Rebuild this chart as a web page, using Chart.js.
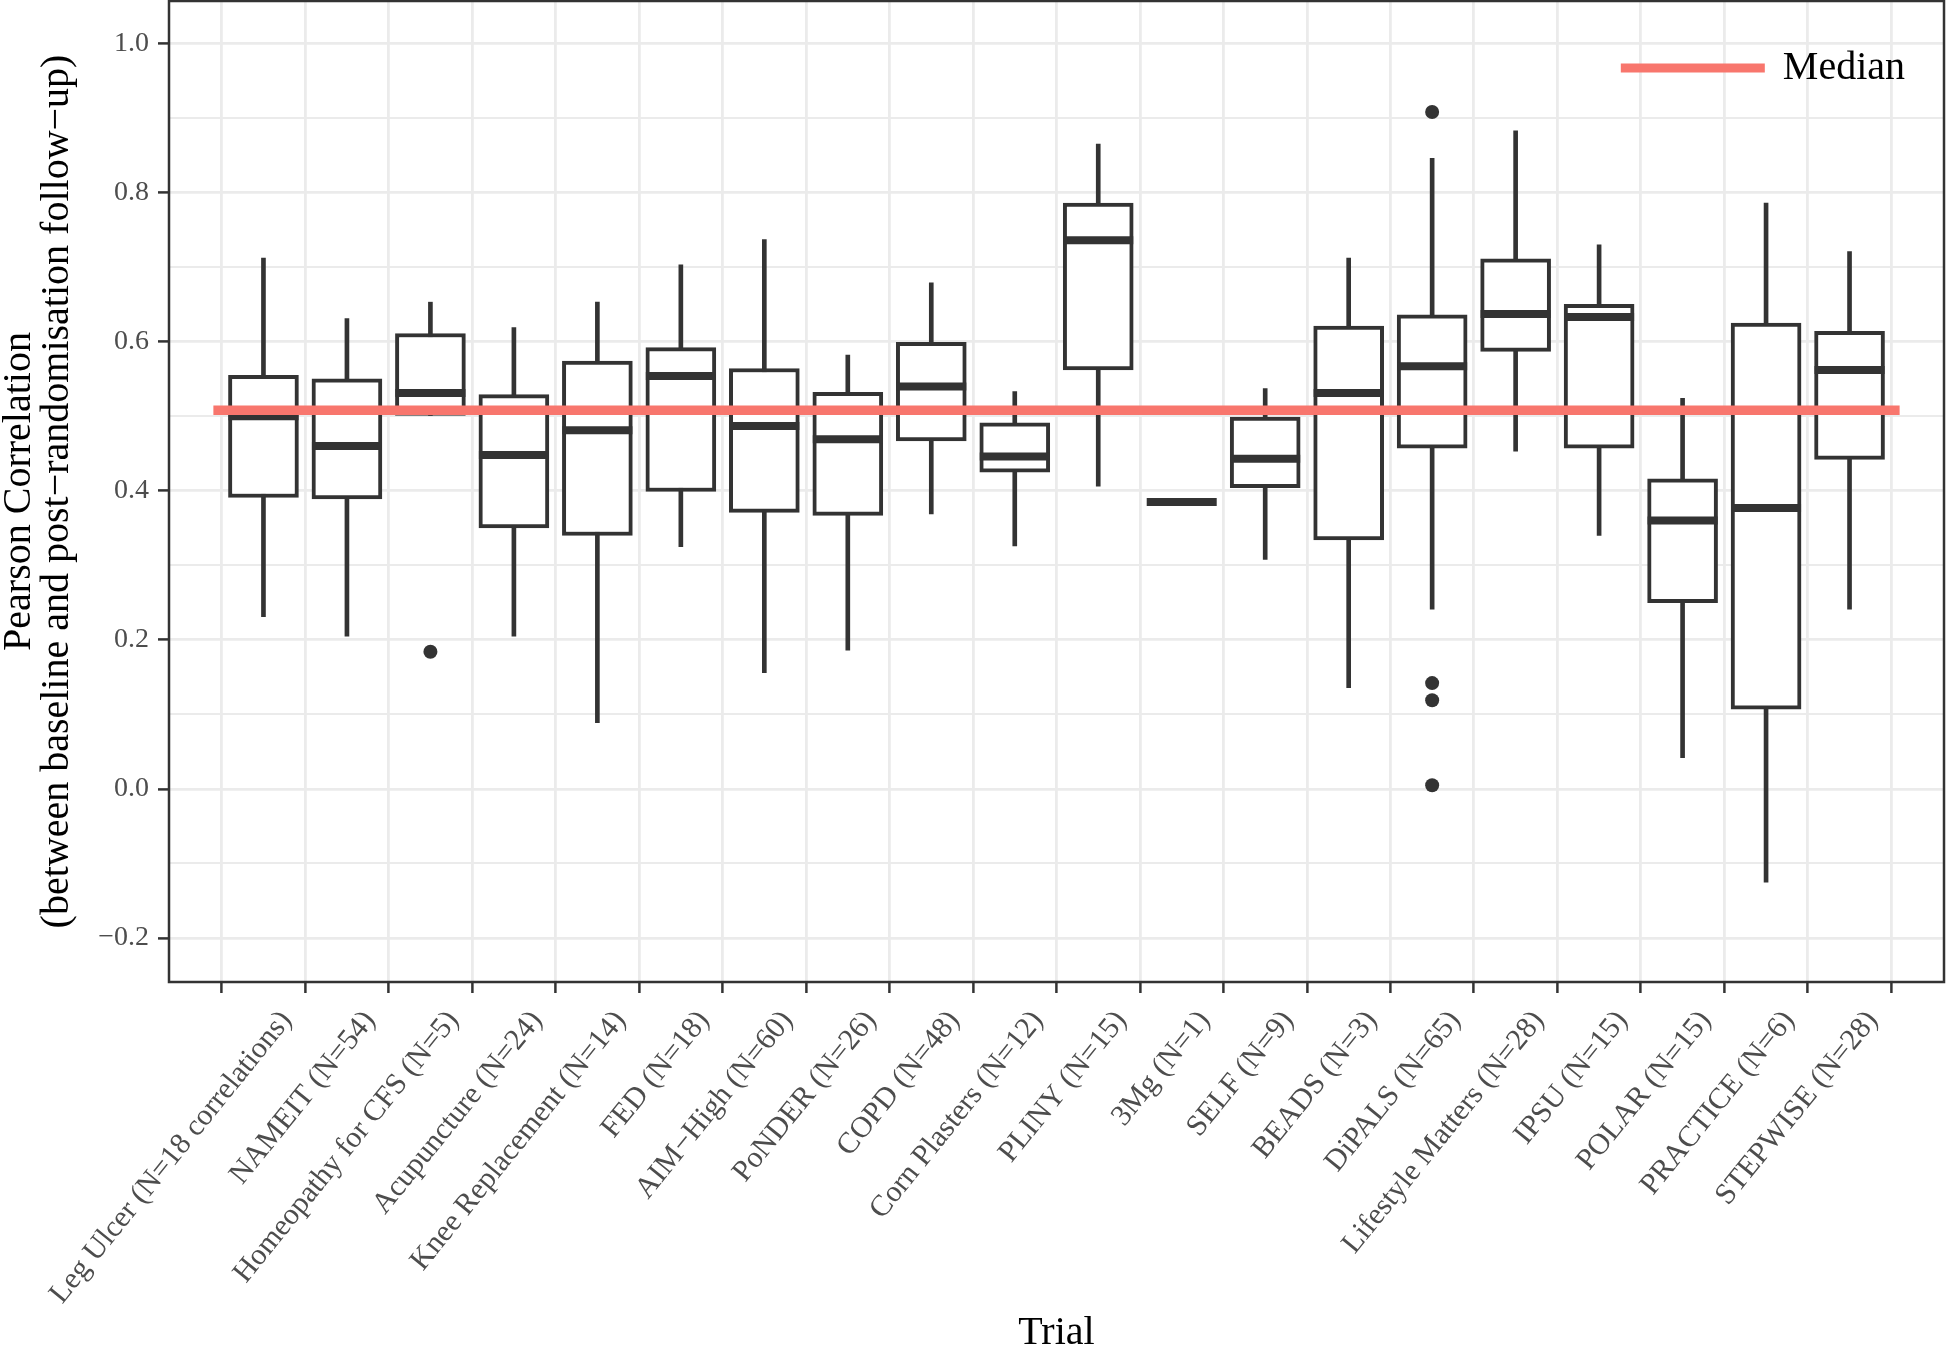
<!DOCTYPE html>
<html><head><meta charset="utf-8">
<script src="https://cdn.jsdelivr.net/npm/chart.js@4/dist/chart.umd.min.js"></script>
<style>html,body{margin:0;padding:0;background:#fff}canvas{display:block}</style>
</head><body>
<canvas id="c" width="1946" height="1349"></canvas>
<script>
const trials = ["Leg Ulcer (N=18 correlations)","NAMEIT (N=54)","Homeopathy for CFS (N=5)","Acupuncture (N=24)","Knee Replacement (N=14)","FED (N=18)","AIM\u2212High (N=60)","PoNDER (N=26)","COPD (N=48)","Corn Plasters (N=12)","PLINY (N=15)","3Mg (N=1)","SELF (N=9)","BEADS (N=3)","DiPALS (N=65)","Lifestyle Matters (N=28)","IPSU (N=15)","POLAR (N=15)","PRACTICE (N=6)","STEPWISE (N=28)"];
const whiskerLow  = [0.231,0.205,0.501,0.205,0.089,0.325,0.156,0.186,0.369,0.326,0.406,0.385,0.308,0.136,0.241,0.453,0.340,0.042,-0.125,0.241];
const q1          = [0.391,0.389,0.501,0.350,0.340,0.399,0.371,0.367,0.467,0.425,0.562,0.385,0.404,0.334,0.457,0.587,0.457,0.250,0.107,0.442];
const medians     = [0.500,0.460,0.531,0.448,0.481,0.554,0.487,0.469,0.540,0.446,0.736,0.385,0.443,0.531,0.567,0.637,0.633,0.360,0.377,0.562];
const q3          = [0.555,0.550,0.611,0.529,0.574,0.592,0.564,0.532,0.599,0.491,0.786,0.385,0.499,0.621,0.636,0.711,0.650,0.416,0.625,0.614];
const whiskerHigh = [0.712,0.631,0.653,0.619,0.653,0.703,0.737,0.582,0.679,0.533,0.865,0.385,0.537,0.712,0.846,0.883,0.730,0.524,0.786,0.721];
const outlierTrial = [2,14,14,14,14];
const outlierValue = [0.184,0.908,0.142,0.119,0.005];
const overallMedian = 0.508;
const yTickValues = [-0.2,-0.1,0.0,0.1,0.2,0.3,0.4,0.5,0.6,0.7,0.8,0.9,1.0];
const yTickLabels = ["\u22120.2","","0.0","","0.2","","0.4","","0.6","","0.8","","1.0"];

const X_MIN = -0.6, X_MAX = trials.length - 1 + 0.6;
const Y_MIN = -0.259, Y_MAX = 1.057;
const DARK = '#333333';
const RED = '#F8766D';
const FONT = "'Liberation Serif', 'Times New Roman', serif";

Chart.defaults.font.family = FONT;

const panelBorder = {
  id: 'panelBorder',
  afterDraw(chart) {
    const {ctx, chartArea: a} = chart;
    ctx.save();
    ctx.strokeStyle = DARK;
    ctx.lineWidth = 2.5;
    ctx.strokeRect(a.left, a.top, a.right - a.left, a.bottom - a.top);
    ctx.restore();
  }
};

const insideLegend = {
  id: 'insideLegend',
  afterDraw(chart) {
    const ds = chart.data.datasets.find(d => d.showInLegend);
    if (!ds) return;
    const {ctx, chartArea: a} = chart;
    ctx.save();
    ctx.font = "40px " + FONT;
    const tw = ctx.measureText(ds.label).width;
    const textX = a.right - 39 - tw;
    const y = a.top + 67;
    const lineEnd = textX - 18, lineStart = lineEnd - 144;
    ctx.strokeStyle = ds.borderColor;
    ctx.lineWidth = 9;
    ctx.beginPath(); ctx.moveTo(lineStart, y); ctx.lineTo(lineEnd, y); ctx.stroke();
    ctx.fillStyle = '#000';
    ctx.textBaseline = 'middle';
    ctx.textAlign = 'left';
    ctx.fillText(ds.label, textX, y);
    ctx.restore();
  }
};

const idx = trials.map((_, i) => i);

new Chart(document.getElementById('c'), {
  type: 'bar',
  data: {
    datasets: [
      {
        type: 'line', label: 'Median', showInLegend: true,
        data: [{x: X_MIN, y: overallMedian}, {x: X_MAX, y: overallMedian}],
        borderColor: RED, backgroundColor: RED, borderWidth: 9.5,
        pointRadius: 0, order: 0
      },
      {
        type: 'line', label: 'medians', showLine: false,
        data: idx.map(i => ({x: i, y: medians[i]})),
        pointStyle: 'line', pointRadius: 35, pointBorderWidth: 8,
        pointBorderColor: DARK, borderColor: DARK, order: 1
      },
      {
        type: 'line', label: 'outliers', showLine: false,
        data: outlierTrial.map((t, k) => ({x: t, y: outlierValue[k]})),
        pointStyle: 'circle', pointRadius: 7, pointBorderWidth: 0,
        pointBackgroundColor: DARK, backgroundColor: DARK, order: 1
      },
      {
        label: 'boxes',
        data: idx.map(i => ({x: i, y: [q1[i], q3[i]]})),
        backgroundColor: '#ffffff', borderColor: DARK, borderWidth: 4,
        borderSkipped: false, barThickness: 70, grouped: false, order: 2
      },
      {
        label: 'whiskers',
        data: idx.map(i => ({x: i, y: [whiskerLow[i], whiskerHigh[i]]})),
        backgroundColor: DARK, borderWidth: 0,
        barThickness: 4, grouped: false, order: 3
      }
    ]
  },
  options: {
    responsive: false,
    devicePixelRatio: 1,
    animation: false,
    events: [],
    layout: {autoPadding: false, padding: {top: 1, right: 2, left: 0, bottom: 0}},
    plugins: {legend: {display: false}, tooltip: {enabled: false}},
    scales: {
      x: {
        type: 'linear', min: X_MIN, max: X_MAX,
        afterBuildTicks: axis => { axis.ticks = idx.map(i => ({value: i})); },
        afterFit: s => { s.height = 367; s.paddingLeft = 0; s.paddingRight = 0; },
        ticks: {
          autoSkip: false, minRotation: 51, maxRotation: 51, padding: 11, labelOffset: 23,
          color: '#4D4D4D', font: {size: 30},
          callback: v => trials[v] ?? ''
        },
        grid: {color: '#EBEBEB', lineWidth: 2.8, tickColor: DARK, tickLength: 11, tickWidth: 2.5},
        border: {display: false},
        title: {display: true, text: 'Trial', color: '#000', font: {size: 40, lineHeight: 0.8}, padding: {top: 8, bottom: 0}}
      },
      y: {
        type: 'linear', min: Y_MIN, max: Y_MAX,
        afterBuildTicks: axis => { axis.ticks = yTickValues.map(v => ({value: v})); },
        afterFit: s => { s.width = 169; s.paddingTop = 0; s.paddingBottom = 0; },
        ticks: {
          padding: 9, color: '#4D4D4D', font: {size: 28},
          callback: (v, i) => yTickLabels[i]
        },
        grid: {
          color: '#EBEBEB',
          lineWidth: c => (yTickLabels[c.index] ? 2.8 : 2),
          tickColor: c => (yTickLabels[c.index] ? DARK : 'rgba(0,0,0,0)'),
          tickLength: 11, tickWidth: 2.5
        },
        border: {display: false},
        title: {
          display: true,
          text: ['Pearson Correlation', '(between baseline and post\u2212randomisation follow\u2212up)'],
          color: '#000', font: {size: 40, lineHeight: 0.95}, padding: {top: 0, bottom: 23}
        }
      }
    }
  },
  plugins: [panelBorder, insideLegend]
});
</script>
</body></html>
